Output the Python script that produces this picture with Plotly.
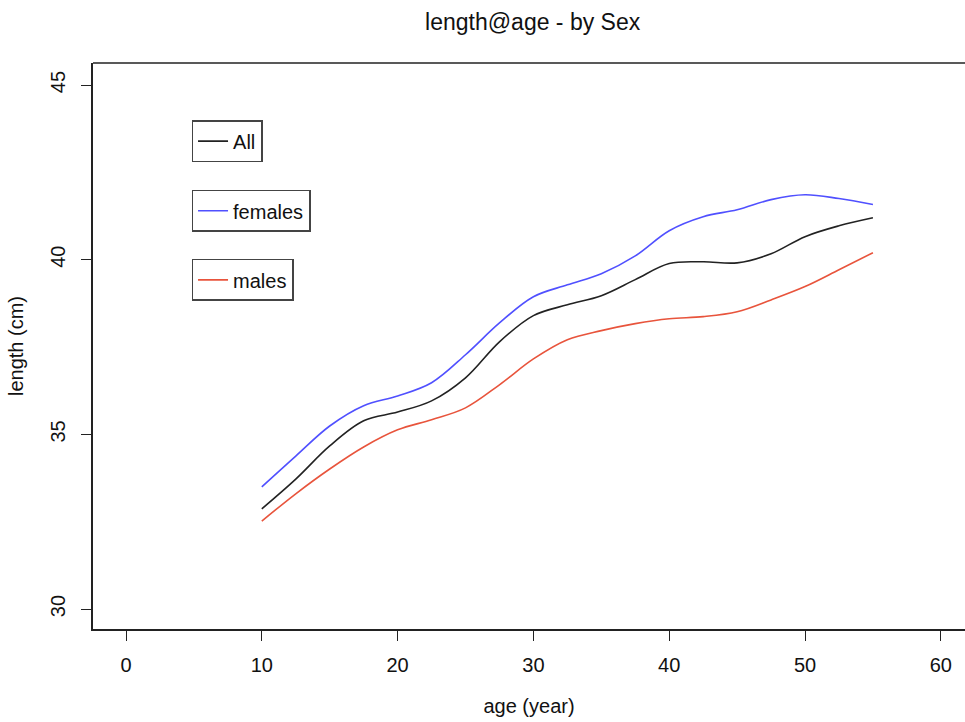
import plotly.graph_objects as go

ages = [10, 12.5, 15, 17.5, 20, 22.5, 25, 27.5, 30, 32.5, 35, 37.5, 40, 42.5, 45, 47.5, 50, 52.5, 55]
all_len = [32.87, 33.72, 34.67, 35.39, 35.64, 35.96, 36.62, 37.65, 38.40, 38.71, 38.97, 39.43,
           39.89, 39.94, 39.91, 40.17, 40.66, 40.97, 41.20]
female_len = [33.50, 34.38, 35.24, 35.82, 36.10, 36.48, 37.28, 38.19, 38.94, 39.28, 39.60, 40.11,
              40.83, 41.23, 41.43, 41.72, 41.86, 41.75, 41.58]
male_len = [32.52, 33.30, 34.01, 34.64, 35.13, 35.42, 35.76, 36.42, 37.16, 37.71, 37.97, 38.17,
            38.31, 38.37, 38.51, 38.85, 39.23, 39.71, 40.20]
x_ticks = [0, 10, 20, 30, 40, 50, 60]
y_ticks = [30, 35, 40, 45]

FONT = "Liberation Sans, Arial, sans-serif"

fig = go.Figure()
fig.add_trace(go.Scatter(x=ages, y=all_len, mode="lines", name="All", showlegend=True,
                         line=dict(color="#222222", width=1.6, shape="spline", smoothing=1.0),
                         legend="legend"))
fig.add_trace(go.Scatter(x=ages, y=female_len, mode="lines", name="females", showlegend=True,
                         line=dict(color="#5050ff", width=1.6, shape="spline", smoothing=1.0),
                         legend="legend2"))
fig.add_trace(go.Scatter(x=ages, y=male_len, mode="lines", name="males", showlegend=True,
                         line=dict(color="#e8543c", width=1.6, shape="spline", smoothing=1.0),
                         legend="legend3"))

leg_common = dict(bgcolor="rgba(255,255,255,0)", bordercolor="#444444", borderwidth=1.5,
                  font=dict(family=FONT, size=20, color="#111111"), xanchor="left", yanchor="top",
                  itemwidth=30, tracegroupgap=0)

fig.update_layout(
    width=965, height=722,
    showlegend=True,
    margin=dict(l=93, r=0, t=63, b=93),
    paper_bgcolor="white", plot_bgcolor="white",
    title=dict(text="length@age - by Sex", x=0.552, xanchor="center", y=0.969, yanchor="middle",
               font=dict(family=FONT, size=23, color="#111111")),
    legend=dict(x=0.113, y=0.899, **leg_common),
    legend2=dict(x=0.113, y=0.776, **leg_common),
    legend3=dict(x=0.113, y=0.654, **leg_common),
    xaxis=dict(range=[-2.43, 61.78], tickvals=x_ticks, ticks="outside", ticklen=10, tickwidth=1,
               tickcolor="#222", showgrid=False, zeroline=False, showline=True, linecolor="#222",
               linewidth=1.5, ticklabelstandoff=7, tickfont=dict(family=FONT, size=20, color="#111"),
               title=dict(text="age (year)", font=dict(family=FONT, size=20, color="#111"), standoff=24)),
    yaxis=dict(range=[29.43, 45.63], tickvals=y_ticks, ticks="outside", ticklen=10, tickwidth=1,
               tickcolor="#222", showgrid=False, zeroline=False, showline=True, linecolor="#222",
               linewidth=1.5, tickangle=-90, ticklabelstandoff=8,
               tickfont=dict(family=FONT, size=20, color="#111"),
               title=dict(text="length (cm)", font=dict(family=FONT, size=20, color="#111"), standoff=18)),
)
fig.add_shape(type="line", xref="paper", yref="paper", x0=0, x1=1, y0=1, y1=1,
              line=dict(color="#222", width=1.5))

fig.write_html("out.html")
